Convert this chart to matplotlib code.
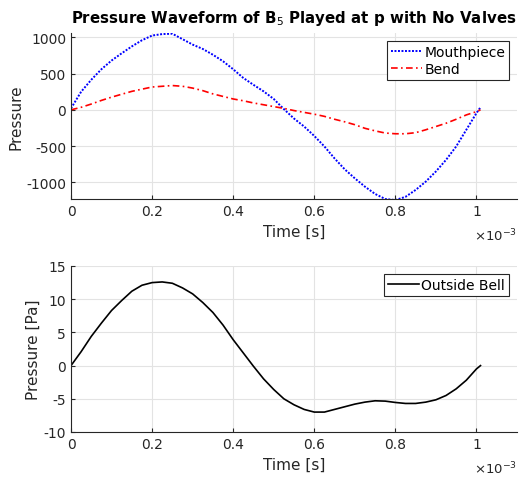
import matplotlib.pyplot as plt
import numpy as np

# time in ms (axis shows x10^-3 s)
t_ms = [0, 0.025, 0.05, 0.075, 0.1, 0.125, 0.15, 0.175, 0.2, 0.225,
        0.25, 0.275, 0.3, 0.325, 0.35, 0.375, 0.4, 0.425, 0.45, 0.475,
        0.5, 0.525, 0.55, 0.575, 0.6, 0.625, 0.65, 0.675, 0.7, 0.725,
        0.75, 0.775, 0.8, 0.825, 0.85, 0.875, 0.9, 0.925, 0.95, 0.975,
        1.0, 1.01]
mouthpiece = [20, 250, 415, 560, 680, 780, 875, 960, 1025, 1045,
              1050, 975, 900, 840, 760, 670, 560, 440, 345, 255,
              150, 10, -120, -230, -360, -505, -670, -820, -945, -1060,
              -1160, -1230, -1245, -1200, -1105, -990, -850, -690, -505, -275,
              -45, 35]
bend = [0, 35, 80, 130, 175, 215, 255, 285, 315, 325,
        335, 325, 300, 265, 220, 185, 150, 125, 95, 70,
        45, 20, -10, -35, -60, -90, -130, -165, -205, -255,
        -290, -320, -330, -330, -315, -275, -230, -185, -130, -70,
        -25, 0]
outside_bell = [0, 2.1, 4.4, 6.4, 8.3, 9.8, 11.2, 12.1, 12.5, 12.6,
                12.4, 11.7, 10.8, 9.5, 8.0, 6.1, 3.9, 1.9, -0.1, -2.0,
                -3.6, -5.0, -5.9, -6.6, -7.0, -7.0, -6.6, -6.2, -5.8, -5.5,
                -5.3, -5.35, -5.55, -5.7, -5.7, -5.5, -5.15, -4.5, -3.5, -2.2,
                -0.5, 0]

plt.rcParams.update({
    'font.family': 'DejaVu Sans',
    'font.size': 10,
    'axes.unicode_minus': False,
    'axes.edgecolor': '#262626',
    'xtick.color': '#262626',
    'ytick.color': '#262626',
    'axes.labelcolor': '#262626',
    'xtick.direction': 'in',
    'ytick.direction': 'in',
    'xtick.major.size': 3,
    'ytick.major.size': 3,
})

t = np.array(t_ms) * 1e-3

fig = plt.figure(figsize=(5.21, 4.81), dpi=100)
ax1 = fig.add_axes([71 / 521, 1 - 200 / 481, 446 / 521, 166 / 481])
ax2 = fig.add_axes([71 / 521, 1 - 433 / 481, 446 / 521, 166 / 481])


def style(ax):
    ax.spines['top'].set_visible(False)
    ax.spines['right'].set_visible(False)
    ax.grid(True, color='#e3e3e3', linewidth=0.8)
    ax.set_axisbelow(True)
    ax.set_xlim(0, 1.1e-3)
    ax.set_xticks([0, 0.2e-3, 0.4e-3, 0.6e-3, 0.8e-3, 1.0e-3])
    ax.set_xticklabels(['0', '0.2', '0.4', '0.6', '0.8', '1'])
    ax.set_xlabel('Time [s]', fontsize=11, labelpad=4)
    ax.text(1.0, -0.165, r'$\times$10$^{-3}$', transform=ax.transAxes,
            ha='right', va='top', fontsize=9.5, color='#262626')


ax1.plot(t, mouthpiece, color='blue', linewidth=1.4, linestyle=(0, (1, 0.8)),
         label='Mouthpiece')
ax1.plot(t, bend, color='red', linewidth=1.2, linestyle=(0, (4, 2, 1, 2)),
         label='Bend')
style(ax1)
ax1.set_ylim(-1230, 1060)
ax1.set_yticks([-1000, -500, 0, 500, 1000])
ax1.set_ylabel('Pressure', fontsize=11, labelpad=2)
ax1.set_title('Pressure Waveform of B$_5$ Played at p with No Valves',
              fontsize=10.8, fontweight='bold', pad=8)
leg = ax1.legend(loc='upper right', fancybox=False, edgecolor='#262626',
                 framealpha=1, borderpad=0.3, handlelength=2.2,
                 handletextpad=0.2, labelspacing=0.2, borderaxespad=0.55)
leg.get_frame().set_linewidth(0.8)

ax2.plot(t, outside_bell, '-', color='black', linewidth=1.2, label='Outside Bell')
style(ax2)
ax2.set_ylim(-10, 15)
ax2.set_yticks([-10, -5, 0, 5, 10, 15])
ax2.set_ylabel('Pressure [Pa]', fontsize=11, labelpad=2)
leg2 = ax2.legend(loc='upper right', fancybox=False, edgecolor='#262626',
                  framealpha=1, borderpad=0.3, handlelength=2.2,
                  handletextpad=0.2, borderaxespad=0.55)
leg2.get_frame().set_linewidth(0.8)

fig.savefig('out.png', dpi=100)
